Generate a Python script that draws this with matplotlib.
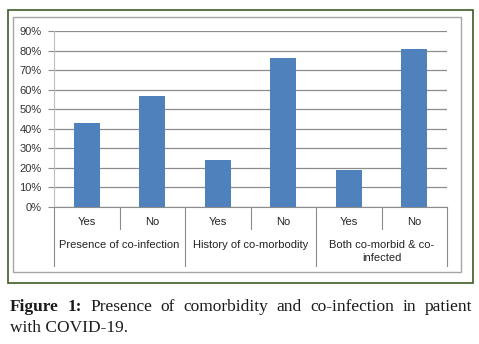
import numpy as np
import matplotlib
matplotlib.use("Agg")
import matplotlib.pyplot as plt
from matplotlib.patches import Rectangle
import matplotlib.transforms as mtransforms

# data
sub_labels = ["Yes", "No", "Yes", "No", "Yes", "No"]
group_labels = ["Presence of co-infection", "History of co-morbodity", "Both co-morbid & co-\ninfected"]
values = [0.43, 0.57, 0.24, 0.76, 0.19, 0.81]
yticks = [0, 0.1, 0.2, 0.3, 0.4, 0.5, 0.6, 0.7, 0.8, 0.9]
caption_bold = "Figure 1:"
caption_line1 = "Presence of comorbidity and co-infection in patient"
caption_line2 = "with COVID-19."

W, H = 479, 344
fig = plt.figure(figsize=(W / 100, H / 100), dpi=100)

def fx(px):
    return px / W

def fy(py):
    return 1 - py / H

# frames
fig.patches.append(Rectangle((fx(8), fy(283)), fx(473) - fx(8), fy(10) - fy(283),
                             transform=fig.transFigure, fill=False, ec="#3d5c26", lw=1.2))
fig.patches.append(Rectangle((fx(13), fy(272)), fx(461) - fx(13), fy(17) - fy(272),
                             transform=fig.transFigure, fill=False, ec="#a6a6a6", lw=1.0))

ax = fig.add_axes([fx(54), fy(207), fx(447) - fx(54), fy(31) - fy(207)])
x = np.arange(len(values))
ax.bar(x, values, width=0.4, color="#4F81BD", zorder=3)
ax.set_xlim(-0.5, len(values) - 0.5)
ax.set_ylim(0, 0.9)
ax.set_yticks(yticks)
ax.set_yticklabels([f"{int(round(v * 100))}%" for v in yticks],
                   fontsize=8, family="Liberation Sans", color="#333333")
ax.tick_params(axis="y", length=4, color="#8c8c8c", width=0.8, pad=5)
ax.set_xticks([])
ax.yaxis.grid(True, color="#8c8c8c", lw=0.9)
ax.set_axisbelow(True)
for s in ["top", "right"]:
    ax.spines[s].set_visible(False)
ax.spines["left"].set_color("#bfbfbf")
ax.spines["bottom"].set_color("#8c8c8c")

trans = mtransforms.blended_transform_factory(ax.transData, ax.transAxes)
# category separators
for i in range(len(values) + 1):
    xb = i - 0.5
    bottom = -0.335 if i % 2 == 0 else -0.125
    ax.plot([xb, xb], [0, bottom], transform=trans, color="#8c8c8c", lw=0.8, clip_on=False)
for i, lab in enumerate(sub_labels):
    ax.text(i, -0.085, lab, transform=trans, ha="center", va="center",
            fontsize=8, family="Liberation Sans", color="#222222")
for g, lab in enumerate(group_labels):
    yy = -0.255 if "\n" in lab else -0.216
    ax.text(2 * g + 0.5, yy, lab, transform=trans, ha="center", va="center",
            fontsize=8, family="Liberation Sans", color="#222222", linespacing=1.4)

# caption, justified first line
cap_kw = dict(fontsize=12.5, family="Liberation Serif", color="#1a1a1a", va="center")
renderer = fig.canvas.get_renderer()
words = [(caption_bold.split()[0], True), (caption_bold.split()[1], True)] + \
        [(w, False) for w in caption_line1.split()]
texts = []
for w, b in words:
    t = fig.text(0, fy(307), w, fontweight="bold" if b else "normal", **cap_kw)
    texts.append(t)
widths = [t.get_window_extent(renderer).width for t in texts]
left, right = 10, 472
gap = (right - left - sum(widths)) / (len(texts) - 1)
pos = left
for t, wdt in zip(texts, widths):
    t.set_x(fx(pos))
    pos += wdt + gap
fig.text(fx(10), fy(328), caption_line2, **cap_kw)

fig.savefig("out.png", dpi=100)
